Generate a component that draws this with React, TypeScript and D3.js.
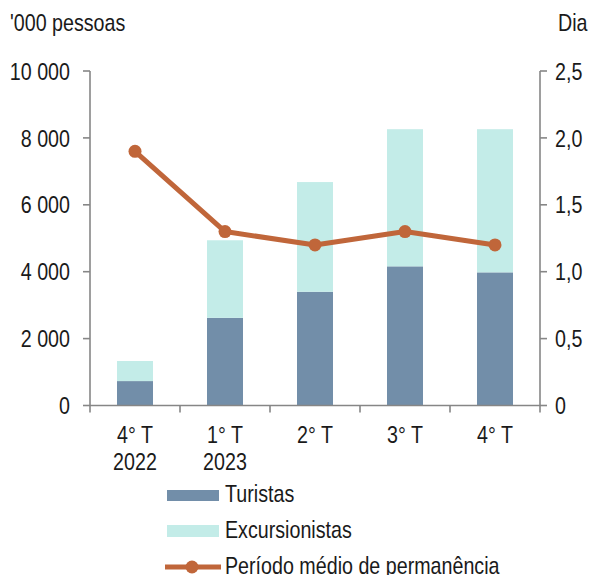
import React from "react";
import * as d3 from "d3";

const categories = ["4° T|2022", "1° T|2023", "2° T", "3° T", "4° T"];
const turistas = [730, 2620, 3400, 4160, 3980];
const excursionistas = [600, 2320, 3280, 4100, 4280];
const permanencia = [1.9, 1.3, 1.2, 1.3, 1.2];
const leftTicks = [0, 2000, 4000, 6000, 8000, 10000];
const rightTicks = [0, 0.5, 1.0, 1.5, 2.0, 2.5];

const W = 591, H = 575;
const X0 = 90, X1 = 540, YT = 71, YB = 405.5;
const FONT = "'Liberation Sans', Arial, sans-serif";
const FS = 24;
const SX = 0.82;
const TXT = "#1a1a1a";
const AX = "#868686";
const C_TUR = "#728ea9";
const C_EXC = "#c3ece8";
const C_LINE = "#c0663a";

const fmtL = (v: number) => (v >= 1000 ? d3.format(",")(v).replace(",", " ") : String(v));
const fmtR = (v: number) => (v === 0 ? "0" : v.toFixed(1).replace(".", ","));

function T(props: { x: number; y: number; anchor?: "start" | "middle" | "end"; dy?: string; children: React.ReactNode }) {
  const { x, y, anchor = "start", dy, children } = props;
  return (
    <text transform={`translate(${x},${y}) scale(${SX},1)`} textAnchor={anchor} dy={dy} fontSize={FS} fill={TXT}>
      {children}
    </text>
  );
}

export default function App() {
  const x = d3.scaleBand<string>().domain(categories).range([X0, X1]).paddingInner(0.6).paddingOuter(0.3);
  const xc = (c: string) => (x(c) as number) + x.bandwidth() / 2;
  const yL = d3.scaleLinear().domain([0, 10000]).range([YB, YT]);
  const yR = d3.scaleLinear().domain([0, 2.5]).range([YB, YT]);
  const line = d3.line<number>().x((_, i) => xc(categories[i])).y((d) => yR(d));
  const bounds = d3.range(categories.length + 1).map((i) => X0 + (i * (X1 - X0)) / categories.length);

  return (
    <svg width={W} height={H} style={{ position: "absolute", left: 0, top: 0 }} fontFamily={FONT}>
      <rect width={W} height={H} fill="#fff" />
      {/* bars */}
      {categories.map((c, i) => (
        <g key={c}>
          <rect x={x(c)} width={x.bandwidth()} y={yL(turistas[i])} height={yL(0) - yL(turistas[i])} fill={C_TUR} />
          <rect
            x={x(c)}
            width={x.bandwidth()}
            y={yL(turistas[i] + excursionistas[i])}
            height={yL(turistas[i]) - yL(turistas[i] + excursionistas[i])}
            fill={C_EXC}
          />
        </g>
      ))}
      {/* axes */}
      <g stroke={AX} strokeWidth={1.6} fill="none">
        <line x1={X0} x2={X0} y1={YT} y2={YB} />
        <line x1={X1} x2={X1} y1={YT} y2={YB} />
        <line x1={X0} x2={X1} y1={YB} y2={YB} />
        {leftTicks.map((t) => (
          <line key={"l" + t} x1={X0 - 7} x2={X0} y1={yL(t)} y2={yL(t)} />
        ))}
        {rightTicks.map((t) => (
          <line key={"r" + t} x1={X1} x2={X1 + 7} y1={yR(t)} y2={yR(t)} />
        ))}
        {bounds.map((b) => (
          <line key={"b" + b} x1={b} x2={b} y1={YB} y2={YB + 7} />
        ))}
      </g>
      {/* tick labels */}
      {leftTicks.map((t) => (
        <T key={"lt" + t} x={70} y={yL(t)} dy="0.36em" anchor="end">
          {fmtL(t)}
        </T>
      ))}
      {rightTicks.map((t) => (
        <T key={"rt" + t} x={555} y={yR(t)} dy="0.36em">
          {fmtR(t)}
        </T>
      ))}
      {categories.map((c) =>
        c.split("|").map((s, j) => (
          <T key={c + j} x={xc(c)} y={443 + j * 27} anchor="middle">
            {s}
          </T>
        ))
      )}
      <T x={10} y={31}>'000 pessoas</T>
      <T x={558} y={31}>Dia</T>
      {/* line */}
      <path d={line(permanencia) || ""} fill="none" stroke={C_LINE} strokeWidth={5} strokeLinejoin="round" />
      {permanencia.map((v, i) => (
        <circle key={i} cx={xc(categories[i])} cy={yR(v)} r={6.5} fill={C_LINE} />
      ))}
      {/* legend */}
      <rect x={167} y={490} width={52} height={11} fill={C_TUR} />
      <T x={225} y={502}>Turistas</T>
      <rect x={167} y={525} width={52} height={12} fill={C_EXC} />
      <T x={225} y={538}>Excursionistas</T>
      <line x1={165} x2={221} y1={567} y2={567} stroke={C_LINE} strokeWidth={5} />
      <circle cx={192} cy={567} r={6.5} fill={C_LINE} />
      <T x={225} y={574}>Período médio de permanência</T>
    </svg>
  );
}
